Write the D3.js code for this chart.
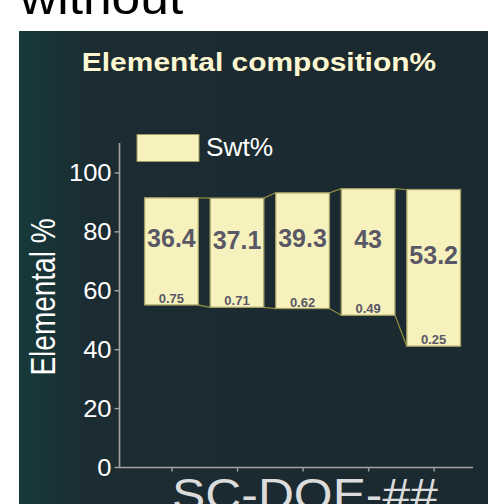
<!DOCTYPE html>
<html><head><meta charset="utf-8">
<script src="https://cdn.jsdelivr.net/npm/d3@7"></script>
<style>html,body{margin:0;padding:0;background:#fff;overflow:hidden}svg{display:block}text{font-family:"Liberation Sans",Arial,sans-serif}</style>
</head><body>
<script>
const categories = ["1", "2", "3", "4", "5"];
const bottoms = [55.0, 54.2, 53.8, 51.5, 41.0];
const swt = [36.4, 37.1, 39.3, 43, 53.2];
const ratios = [0.75, 0.71, 0.62, 0.49, 0.25];
const yTicks = [0, 20, 40, 60, 80, 100];
const title = "Elemental composition%";
const yLabel = "Elemental %";
const xLabel = "SC-DOE-##";
const legendLabel = "Swt%";
const heading = "without";

const W = 488, H = 504;
const svg = d3.select("body").append("svg").attr("width", W).attr("height", H);

const defs = svg.append("defs");
const g = defs.append("linearGradient").attr("id", "bg").attr("x1", "0").attr("x2", "1").attr("y1", "0").attr("y2", "0");
g.append("stop").attr("offset", "0").attr("stop-color", "#17393a");
g.append("stop").attr("offset", "0.15").attr("stop-color", "#1b2c32");
g.append("stop").attr("offset", "1").attr("stop-color", "#1b2930");

svg.append("text").attr("x", 20).attr("y", 14).attr("font-size", 46).attr("fill", "#000")
  .attr("transform", "translate(20,0) scale(1.12,1) translate(-20,0)").text(heading);

svg.append("rect").attr("x", 19).attr("y", 31).attr("width", W - 19).attr("height", H - 31).attr("fill", "url(#bg)");

const x = d3.scaleLinear().domain([0.2, 5.6]).range([119, 473]);
const y = d3.scaleLinear().domain([0, 110]).range([467, 143]);
const bw = x(0.82) - x(0);

// title
svg.append("text").attr("x", 259).attr("y", 71.5).attr("text-anchor", "middle")
  .attr("font-size", 26.5).attr("font-weight", "bold").attr("fill", "#fdf8d4")
  .attr("stroke", "#2a2a1a").attr("stroke-width", 0.6).attr("paint-order", "stroke")
  .attr("transform", "translate(259,0) scale(1.13,1) translate(-259,0)").text(title);

// axes
const axisColor = "#a3a3a3";
const yAxis = svg.append("g").attr("transform", "translate(119.5,0)")
  .call(d3.axisLeft(y).tickValues(yTicks).tickSize(5).tickPadding(3).tickFormat(d3.format("d")));
yAxis.select(".domain").attr("stroke", axisColor).attr("stroke-width", 1.6).attr("d", `M0,${y(110)}V${y(0)}`);
yAxis.selectAll(".tick line").attr("stroke", axisColor).attr("stroke-width", 1.4);
yAxis.selectAll(".tick text").attr("fill", "#ffffff").attr("font-size", 23)
  .attr("dy", "0.36em").attr("font-family", "'Liberation Sans',Arial,sans-serif")
  .attr("transform", "translate(-8,0) scale(1.11,1) translate(8,0)");

const xAxis = svg.append("g").attr("transform", `translate(0,${y(0) + 0.5})`)
  .call(d3.axisBottom(x).tickValues(categories.map((c, i) => i + 1)).tickSize(4).tickFormat(""));
xAxis.select(".domain").attr("stroke", axisColor).attr("stroke-width", 1.6).attr("d", `M119,0H473`);
xAxis.selectAll(".tick line").attr("stroke", axisColor).attr("stroke-width", 1.4);

// connectors
const lineColor = "#8f8b3e";
const conn = svg.append("g");
for (let i = 0; i < categories.length - 1; i++) {
  const x1 = x(i + 1) + bw / 2, x2 = x(i + 2) - bw / 2;
  conn.append("line").attr("x1", x1).attr("x2", x2).attr("y1", y(bottoms[i] + swt[i])).attr("y2", y(bottoms[i + 1] + swt[i + 1]))
    .attr("stroke", lineColor).attr("stroke-width", 1.3);
  conn.append("line").attr("x1", x1).attr("x2", x2).attr("y1", y(bottoms[i])).attr("y2", y(bottoms[i + 1]))
    .attr("stroke", lineColor).attr("stroke-width", 1.3);
}

// bars
const bars = svg.append("g").selectAll("g").data(categories).join("g");
bars.append("rect")
  .attr("x", (d, i) => x(i + 1) - bw / 2)
  .attr("y", (d, i) => y(bottoms[i] + swt[i]))
  .attr("width", bw)
  .attr("height", (d, i) => y(bottoms[i]) - y(bottoms[i] + swt[i]))
  .attr("fill", "#f7f2bd").attr("stroke", "#a29d62").attr("stroke-width", 1.3);
bars.append("text")
  .attr("x", (d, i) => x(i + 1))
  .attr("y", (d, i) => y(bottoms[i] + swt[i] / 2) - 4)
  .attr("text-anchor", "middle").attr("font-size", 25).attr("font-weight", "bold").attr("fill", "#5a5866")
  .text((d, i) => swt[i]);
bars.append("text")
  .attr("x", (d, i) => x(i + 1))
  .attr("y", (d, i) => y(bottoms[i]) - 2)
  .attr("text-anchor", "middle").attr("font-size", 13).attr("font-weight", "bold").attr("fill", "#5a5866")
  .text((d, i) => ratios[i]);

// legend
svg.append("rect").attr("x", 137).attr("y", 134.5).attr("width", 62).attr("height", 27)
  .attr("fill", "#f7f2bd").attr("stroke", "#a29d62").attr("stroke-width", 1);
svg.append("text").attr("x", 206).attr("y", 156).attr("font-size", 25).attr("fill", "#ffffff")
  .attr("transform", "translate(206,0) scale(1.05,1) translate(-206,0)").text(legendLabel);

// y label
svg.append("text").attr("text-anchor", "middle").attr("font-size", 28).attr("fill", "#ffffff")
  .attr("transform", "translate(55,297) scale(1.25,1) rotate(-90)").text(yLabel);

// x label
svg.append("text").attr("x", 305).attr("y", 510).attr("text-anchor", "middle").attr("font-size", 44.5).attr("fill", "#dcdcdc")
  .attr("transform", "translate(305,0) scale(1.12,1) translate(-305,0)").text(xLabel);
</script>
</body></html>
